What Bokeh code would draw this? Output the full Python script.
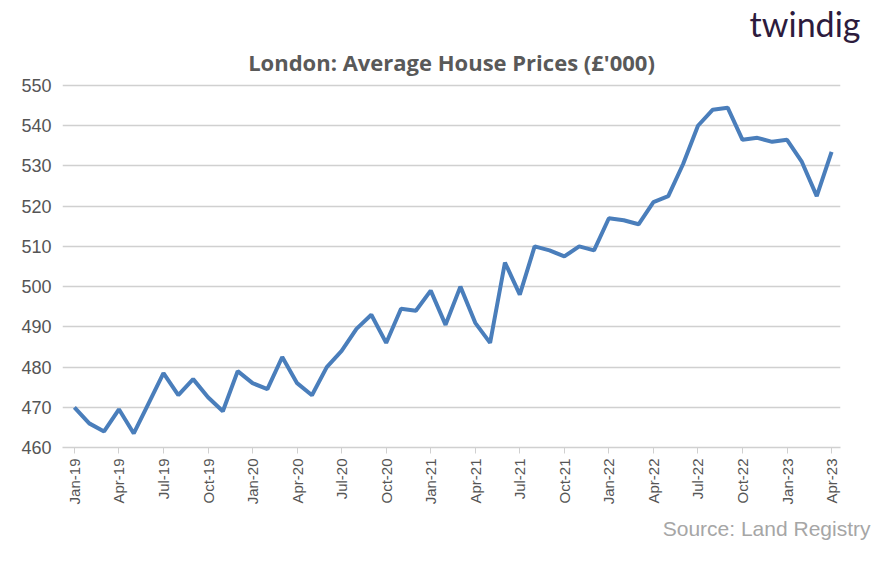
from bokeh.plotting import figure
from bokeh.models import FixedTicker, Range1d, Title
from bokeh.embed import file_html
from bokeh.resources import INLINE

months = ["Jan", "Feb", "Mar", "Apr", "May", "Jun", "Jul", "Aug", "Sep", "Oct", "Nov", "Dec"]
labels = [f"{m}-{y}" for y in ["19", "20", "21", "22", "23"] for m in months][:52]

prices = [470, 466, 464, 469.5, 463.5, 471, 478.5, 473, 477, 472.5, 469, 479,
          476, 474.5, 482.5, 476, 473, 480, 484, 489.5, 493, 486, 494.5, 494,
          499, 490.5, 500, 491, 486, 506, 498, 510, 509, 507.5, 510, 509,
          517, 516.5, 515.5, 521, 522.5, 530.5, 540, 544, 544.5, 536.5, 537, 536,
          536.5, 531, 522.5, 533.5]

x = list(range(len(prices)))

p = figure(width=880, height=546, output_backend="svg", toolbar_location=None,
           x_range=Range1d(-0.8, 51.6), y_range=Range1d(460, 552),
           min_border_left=62, min_border_right=40, min_border_top=0, min_border_bottom=0)

# outer row: logo text
p.title.text = "twindig"
p.title.align = "right"
p.title.text_font = "Lato"
p.title.text_font_size = "34px"
p.title.text_font_style = "normal"
p.title.text_color = "#2d1b3d"
p.title.offset = -20
p.title.standoff = 0

p.add_layout(Title(text="London: Average House Prices (£'000)", align="center",
                   text_font="Open Sans", text_font_size="22px", text_color="#595959",
                   standoff=2), "above")
p.add_layout(Title(text="Source: Land Registry", align="right", text_font="Liberation Sans",
                   text_font_size="21px", text_font_style="normal", text_color="#a6a6a6",
                   offset=-30, standoff=14), "below")

p.line(x, prices, line_width=4, line_color="#4a7ebb")

p.outline_line_color = None
p.xgrid.grid_line_color = None
p.ygrid.grid_line_color = "#d0d0d0"
p.ygrid.grid_line_width = 1.5
p.yaxis.ticker = FixedTicker(ticks=list(range(460, 551, 10)))
p.yaxis.axis_line_color = None
p.yaxis.major_tick_line_color = None
p.yaxis.minor_tick_line_color = None
p.yaxis.major_label_text_font_size = "18px"
p.yaxis.major_label_text_color = "#555555"

p.xaxis.ticker = FixedTicker(ticks=list(range(0, 52, 3)))
p.xaxis.major_label_overrides = {i: labels[i] for i in range(0, 52, 3)}
p.xaxis.major_label_orientation = 1.5708
p.xaxis.axis_line_color = "#d0d0d0"
p.xaxis.axis_line_width = 1.5
p.xaxis.major_tick_line_color = "#d0d0d0"
p.xaxis.major_tick_out = 6
p.xaxis.major_tick_in = 0
p.xaxis.minor_tick_line_color = None
p.xaxis.major_label_text_font_size = "15px"
p.xaxis.major_label_text_color = "#555555"

open("out.html", "w").write(file_html(p, INLINE))
